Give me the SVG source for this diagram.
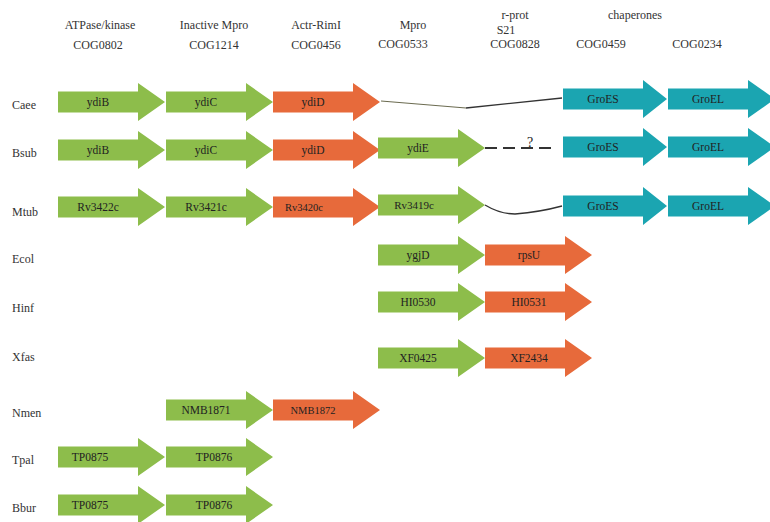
<svg xmlns="http://www.w3.org/2000/svg" xmlns:xlink="http://www.w3.org/1999/xlink" width="770" height="522" viewBox="0 0 770 522">
<style>
text{font-family:"Liberation Serif","Times New Roman",serif;fill:#333}
.hd{font-size:12px;text-anchor:middle}
.row{font-size:12px}
.lbl{font-size:11.5px;text-anchor:middle;fill:#222}
.q{font-size:14px;text-anchor:middle;fill:#222}
.g{fill:#8DBD4B}
.o{fill:#E76A3B}
.t{fill:#1BA5B1}
.ln{fill:none;stroke:#333;stroke-width:1.3}
.dash{fill:none;stroke:#333;stroke-width:2;stroke-dasharray:12 6}
</style>
<defs>
<path id="arr" d="M0,-10.5H80V-19L107,0L80,19V10.5H0Z"/>
<path id="arrS" d="M0,-10.5H80V-19L104,0L80,19V10.5H0Z"/>
</defs>
<rect width="770" height="522" fill="#fff"/>
<g id="headers">
<text class="hd" x="100" y="29">ATPase/kinase</text>
<text class="hd" x="98" y="49">COG0802</text>
<text class="hd" x="214" y="29">Inactive Mpro</text>
<text class="hd" x="214" y="49">COG1214</text>
<text class="hd" x="316" y="29">Actr-RimI</text>
<text class="hd" x="316" y="49">COG0456</text>
<text class="hd" x="413" y="29">Mpro</text>
<text class="hd" x="403" y="48">COG0533</text>
<text class="hd" x="515" y="19">r-prot</text>
<text class="hd" x="506" y="34">S21</text>
<text class="hd" x="515" y="48">COG0828</text>
<text class="hd" x="635" y="19">chaperones</text>
<text class="hd" x="601" y="48">COG0459</text>
<text class="hd" x="697" y="48">COG0234</text>
</g>
<g id="row-labels">
<text class="row" x="12" y="109">Caee</text>
<text class="row" x="12" y="157">Bsub</text>
<text class="row" x="12" y="216">Mtub</text>
<text class="row" x="12" y="263">Ecol</text>
<text class="row" x="12" y="312">Hinf</text>
<text class="row" x="12" y="361">Xfas</text>
<text class="row" x="12" y="417">Nmen</text>
<text class="row" x="12" y="464">Tpal</text>
<text class="row" x="12" y="512">Bbur</text>
</g>
<g id="connectors">
<path class="ln" d="M381,101L466,108" style="stroke:#6b6b50;stroke-width:1.1"/>
<path class="ln" d="M466,108L562,98"/>
<path class="dash" d="M485,148H556"/>
<text class="q" x="530" y="147">?</text>
<path class="ln" d="M485,205Q500,214 515,214Q540,212 562,206"/>
</g>
<g id="caee-ydiB" transform="translate(58,102)"><use xlink:href="#arr" class="g"/><text class="lbl" x="40" y="4">ydiB</text></g>
<g id="caee-ydiC" transform="translate(166,102)"><use xlink:href="#arr" class="g"/><text class="lbl" x="40" y="4">ydiC</text></g>
<g id="caee-ydiD" transform="translate(273,102)"><use xlink:href="#arr" class="o"/><text class="lbl" x="40" y="4">ydiD</text></g>
<g id="caee-groES" transform="translate(563,99)"><use xlink:href="#arrS" class="t"/><text class="lbl" x="40" y="4">GroES</text></g>
<g id="caee-groEL" transform="translate(668,99)"><use xlink:href="#arr" class="t"/><text class="lbl" x="40" y="4">GroEL</text></g>
<g id="bsub-ydiB" transform="translate(58,150)"><use xlink:href="#arr" class="g"/><text class="lbl" x="40" y="4">ydiB</text></g>
<g id="bsub-ydiC" transform="translate(166,150)"><use xlink:href="#arr" class="g"/><text class="lbl" x="40" y="4">ydiC</text></g>
<g id="bsub-ydiD" transform="translate(273,150)"><use xlink:href="#arr" class="o"/><text class="lbl" x="40" y="4">ydiD</text></g>
<g id="bsub-ydiE" transform="translate(378,148)"><use xlink:href="#arr" class="g"/><text class="lbl" x="40" y="4">ydiE</text></g>
<g id="bsub-groES" transform="translate(563,147)"><use xlink:href="#arrS" class="t"/><text class="lbl" x="40" y="4">GroES</text></g>
<g id="bsub-groEL" transform="translate(668,147)"><use xlink:href="#arr" class="t"/><text class="lbl" x="40" y="4">GroEL</text></g>
<g id="mtub-Rv3422c" transform="translate(58,207)"><use xlink:href="#arr" class="g"/><text class="lbl" x="40" y="4">Rv3422c</text></g>
<g id="mtub-Rv3421c" transform="translate(166,207)"><use xlink:href="#arr" class="g"/><text class="lbl" x="40" y="4">Rv3421c</text></g>
<g id="mtub-Rv3420c" transform="translate(273,207)"><use xlink:href="#arr" class="o"/><text class="lbl" x="31" y="4" style="font-size:10.5px">Rv3420c</text></g>
<g id="mtub-Rv3419c" transform="translate(378,205)"><use xlink:href="#arr" class="g"/><text class="lbl" x="36" y="4" style="font-size:11px">Rv3419c</text></g>
<g id="mtub-groES" transform="translate(563,206)"><use xlink:href="#arrS" class="t"/><text class="lbl" x="40" y="4">GroES</text></g>
<g id="mtub-groEL" transform="translate(668,206)"><use xlink:href="#arr" class="t"/><text class="lbl" x="40" y="4">GroEL</text></g>
<g id="ecol-ygjD" transform="translate(378,255)"><use xlink:href="#arr" class="g"/><text class="lbl" x="40" y="4">ygjD</text></g>
<g id="ecol-rpsU" transform="translate(485,255)"><use xlink:href="#arr" class="o"/><text class="lbl" x="44" y="4">rpsU</text></g>
<g id="hinf-HI0530" transform="translate(378,302)"><use xlink:href="#arr" class="g"/><text class="lbl" x="40" y="4">HI0530</text></g>
<g id="hinf-HI0531" transform="translate(485,302)"><use xlink:href="#arr" class="o"/><text class="lbl" x="44" y="4">HI0531</text></g>
<g id="xfas-XF0425" transform="translate(378,358)"><use xlink:href="#arr" class="g"/><text class="lbl" x="40" y="4">XF0425</text></g>
<g id="xfas-XF2434" transform="translate(485,358)"><use xlink:href="#arr" class="o"/><text class="lbl" x="44" y="4">XF2434</text></g>
<g id="nmen-NMB1871" transform="translate(166,410)"><use xlink:href="#arr" class="g"/><text class="lbl" x="40" y="4">NMB1871</text></g>
<g id="nmen-NMB1872" transform="translate(273,410)"><use xlink:href="#arr" class="o"/><text class="lbl" x="40" y="4" style="font-size:10.5px">NMB1872</text></g>
<g id="tpal-TP0875" transform="translate(58,457)"><use xlink:href="#arr" class="g"/><text class="lbl" x="32" y="4">TP0875</text></g>
<g id="tpal-TP0876" transform="translate(166,457)"><use xlink:href="#arr" class="g"/><text class="lbl" x="48" y="4">TP0876</text></g>
<g id="bbur-TP0875" transform="translate(58,505)"><use xlink:href="#arr" class="g"/><text class="lbl" x="32" y="4">TP0875</text></g>
<g id="bbur-TP0876" transform="translate(166,505)"><use xlink:href="#arr" class="g"/><text class="lbl" x="48" y="4">TP0876</text></g>
</svg>
